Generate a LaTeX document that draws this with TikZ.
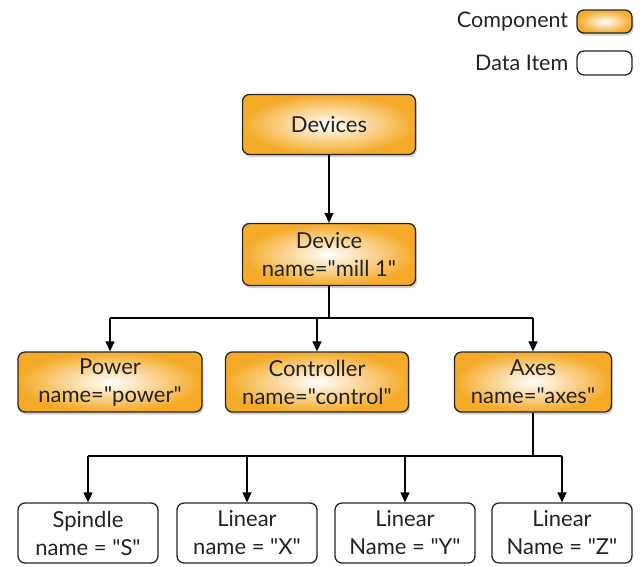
\documentclass[tikz,border=0pt]{standalone}
\usepackage{fontspec}
\newfontfamily\lato{Lato}
\usetikzlibrary{shadows,arrows.meta}
\definecolor{comporange}{RGB}{245,170,40}
\definecolor{txt}{RGB}{35,35,35}
\tikzset{
  comp/.style={draw=black!85, line width=1.3pt, rounded corners=7pt, shading=radial,
    inner color=white, outer color=comporange, align=center, text=txt, font=\lato\fontsize{22}{28}\selectfont,
    drop shadow={opacity=0.35, shadow xshift=1.5pt, shadow yshift=-2.5pt}},
  data/.style={draw=black!85, line width=1.3pt, rounded corners=7pt, fill=white, align=center, text=txt,
    font=\lato\fontsize{22}{28}\selectfont},
  conn/.style={line width=1.3pt, -{Triangle[length=10pt,width=9pt]}},
  link/.style={line width=1.3pt},
  lbl/.style={font=\lato\fontsize{21.5}{22}\selectfont, text=txt, anchor=east, inner sep=0pt}
}
\begin{document}
\begin{tikzpicture}[x=1pt,y=-1pt]
\useasboundingbox (0,0) rectangle (642,566);
% legend
\node[comp, minimum width=55pt, minimum height=23pt, inner sep=0pt, drop shadow={opacity=0}] (lc) at (604.5,21.5) {};
\node[data, minimum width=55pt, minimum height=24pt, inner sep=0pt] (ld) at (604.5,63) {};
\node[lbl] (lct) at ([xshift=-8pt]lc.west) {Component};
\node[lbl] (ldt) at ([xshift=-8pt]ld.west) {Data Item};
% level 0, 1
\node[comp, minimum width=173pt, minimum height=60pt] (devices) at (329,124.5) {Devices};
\node[comp, minimum width=173pt, minimum height=62pt] (device) at (329,254.5) {Device\\name="mill 1"};
% level 2
\node[comp, minimum width=184pt, minimum height=60pt] (power) at (110,382) {Power\\name="power"};
\node[comp, minimum width=183pt, minimum height=60pt] (ctrl) at (317,382) {Controller\\name="control"};
\node[comp, minimum width=157pt, minimum height=60pt] (axes) at (533,382) {Axes\\name="axes"};
% level 3
\node[data, minimum width=140pt, minimum height=60pt] (sp) at (88,533) {Spindle\\name = "S"};
\node[data, minimum width=140pt, minimum height=60pt] (lx) at (247,533) {Linear\\name = "X"};
\node[data, minimum width=140pt, minimum height=60pt] (ly) at (405,533) {Linear\\Name = "Y"};
\node[data, minimum width=140pt, minimum height=60pt] (lz) at (562,533) {Linear\\Name = "Z"};
% connectors
\draw[conn] (devices.south) -- (device.north);
\coordinate (j1) at (329,318);
\draw[link] (device.south) -- (j1);
\draw[link] (power.north |- j1) -- (axes.north |- j1);
\draw[conn] (power.north |- j1) -- (power.north);
\draw[conn] (ctrl.north |- j1) -- (ctrl.north);
\draw[conn] (axes.north |- j1) -- (axes.north);
\coordinate (j2) at (533,456);
\draw[link] (axes.south) -- (j2);
\draw[link] (sp.north |- j2) -- (lz.north |- j2);
\draw[conn] (sp.north |- j2) -- (sp.north);
\draw[conn] (lx.north |- j2) -- (lx.north);
\draw[conn] (ly.north |- j2) -- (ly.north);
\draw[conn] (lz.north |- j2) -- (lz.north);
\end{tikzpicture}
\end{document}
